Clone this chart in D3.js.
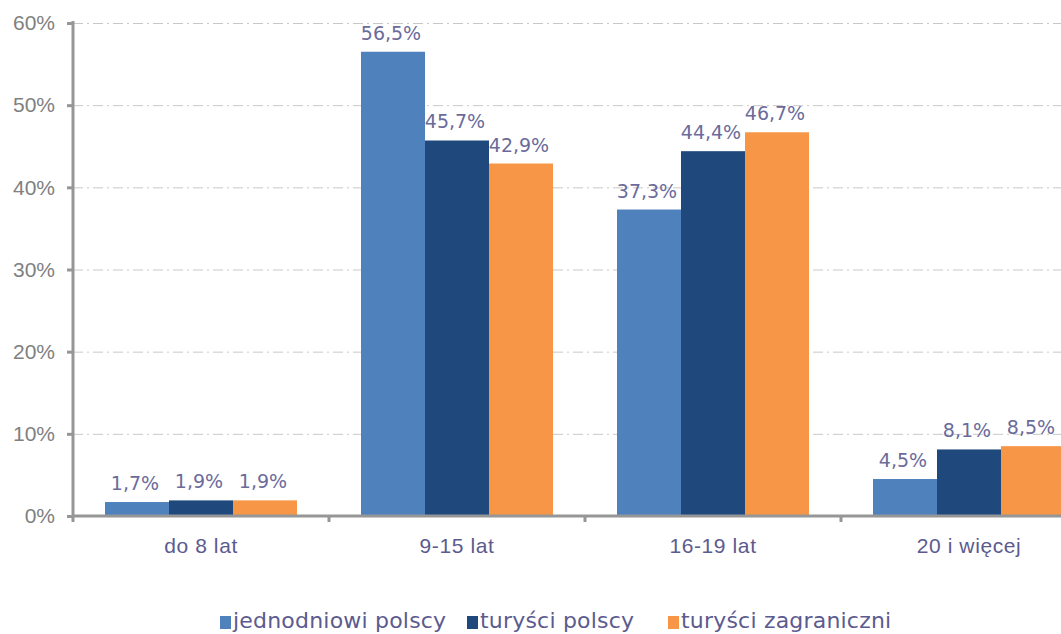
<!DOCTYPE html>
<html lang="pl">
<head>
<meta charset="UTF-8">
<title>Wiek</title>
<style>
  body { margin: 0; background: #fff; }
  svg { display: block; font-family: "DejaVu Sans", Verdana, sans-serif; }
  .grid line { stroke: #c8c8c8; stroke-dasharray: 10,4,2,4; }
  .grid path { display: none; }
  .axis path, .axis line { stroke: #969696; stroke-width: 3px; }
  .axisY text { fill: #808080; font-size: 21px; }
  .axisX text { fill: #5b5b8f; font-size: 21px; letter-spacing: 0.6px; }
  .lbl { fill: #6b6b9b; font-size: 19px; }
  .leg { fill: #5b5b8f; font-size: 22px; letter-spacing: 0.2px; }
</style>
</head>
<body>
<script src="https://d3js.org/d3.v7.min.js"></script>
<script>
// data
var categories = ["do 8 lat", "9-15 lat", "16-19 lat", "20 i więcej"];
var seriesNames = ["jednodniowi polscy", "turyści polscy", "turyści zagraniczni"];
var jednodniowi = [1.7, 56.5, 37.3, 4.5];
var turysciPolscy = [1.9, 45.7, 44.4, 8.1];
var turysciZagr = [1.9, 42.9, 46.7, 8.5];
var colors = ["#4f81bd", "#1f497d", "#f79646"];
var yTicks = [0, 10, 20, 30, 40, 50, 60];

var series = [jednodniowi, turysciPolscy, turysciZagr];

var W = 1061, H = 634;
var mLeft = 73, mTop = 23, plotW = 1024, plotH = 493;

var svg = d3.select("body").append("svg")
  .attr("width", W).attr("height", H);

var g = svg.append("g").attr("transform", "translate(" + mLeft + "," + mTop + ")");

var x0 = d3.scaleBand().domain(categories).range([0, plotW]).paddingInner(0.25).paddingOuter(0.125);
var xCat = d3.scaleBand().domain(categories).range([0, plotW]);
var x1 = d3.scaleBand().domain(d3.range(series.length)).range([0, x0.bandwidth()]);
var y = d3.scaleLinear().domain([0, 60]).range([plotH, 0]);

// gridlines
g.append("g").attr("class", "grid")
  .call(d3.axisLeft(y).tickValues(yTicks.slice(1)).tickSize(-plotW).tickFormat(""));

// bars
categories.forEach(function (c, ci) {
  series.forEach(function (s, si) {
    g.append("rect")
      .attr("x", x0(c) + x1(si))
      .attr("y", y(s[ci]))
      .attr("width", x1.bandwidth())
      .attr("height", plotH - y(s[ci]))
      .attr("fill", colors[si]);
    g.append("text")
      .attr("class", "lbl")
      .attr("x", x0(c) + x1(si) + x1.bandwidth() / 2 - 2)
      .attr("y", y(s[ci]) - 12)
      .attr("text-anchor", "middle")
      .text(String(s[ci].toFixed(1)).replace(".", ",") + "%");
  });
});

// y axis
var ay = g.append("g").attr("class", "axis axisY")
  .call(d3.axisLeft(y).tickValues(yTicks).tickSize(6).tickPadding(12)
    .tickFormat(function (d) { return d + "%"; }));
ay.select(".domain").attr("d", "M0,-2V" + (plotH + 1));

// x axis
var ax = g.append("g").attr("class", "axis axisX")
  .attr("transform", "translate(0," + plotH + ")")
  .call(d3.axisBottom(xCat).tickSize(0).tickPadding(22));
ax.select(".domain").attr("d", "M0,0H" + plotW);
ax.selectAll(".tick line").remove();
ax.selectAll(".sep").data(d3.range(categories.length + 1)).enter().append("line")
  .attr("class", "sep")
  .attr("x1", function (d) { return d * xCat.step(); })
  .attr("x2", function (d) { return d * xCat.step(); })
  .attr("y1", 0).attr("y2", 6);

// legend
var legX = [220, 467, 668];
var leg = svg.append("g");
seriesNames.forEach(function (n, i) {
  leg.append("rect").attr("x", legX[i]).attr("y", 616)
    .attr("width", 11).attr("height", 13).attr("fill", colors[i]);
  leg.append("text").attr("class", "leg").attr("x", legX[i] + 13).attr("y", 628).text(n);
});
</script>
</body>
</html>
